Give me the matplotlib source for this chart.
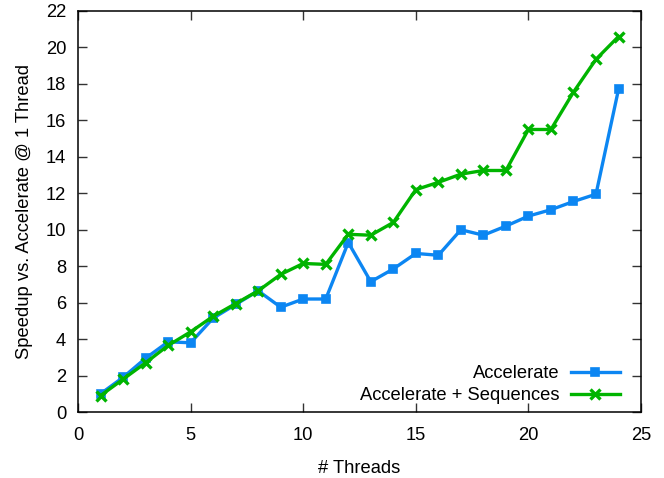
import matplotlib
matplotlib.use("Agg")
import matplotlib.pyplot as plt

threads = list(range(1, 25))
accelerate = [1.0, 1.9, 2.95, 3.85, 3.8, 5.15, 5.9, 6.65, 5.75, 6.2, 6.2, 9.3,
              7.15, 7.85, 8.7, 8.6, 10.0, 9.7, 10.2, 10.75, 11.1, 11.55, 11.95, 17.7]
accel_seq = [0.9, 1.8, 2.7, 3.65, 4.4, 5.25, 5.95, 6.65, 7.55, 8.15, 8.1, 9.75,
             9.7, 10.4, 12.2, 12.6, 13.05, 13.25, 13.25, 15.5, 15.5, 17.55, 19.35, 20.6]
labels = ["Accelerate", "Accelerate + Sequences"]

plt.rcParams["font.family"] = ["Liberation Sans", "DejaVu Sans"]
plt.rcParams["font.size"] = 13.2

fig = plt.figure(figsize=(6.64, 4.78), dpi=100)
ax = fig.add_axes([0.1175, 0.138, 0.8479, 0.839])

ax.plot(threads, accelerate, color="#0c86f2", lw=2.4, marker="s", ms=5.5,
        mew=1.2, label=labels[0])
ax.plot(threads, accel_seq, color="#00b400", lw=2.4, marker="x", ms=7.5,
        mew=2.4, label=labels[1])

ax.set_xlim(0, 25)
ax.set_ylim(0, 22)
ax.set_xticks(range(0, 26, 5))
ax.set_yticks(range(0, 23, 2))
ax.tick_params(direction="in", length=6.5, width=1, top=True, right=True,
               color="#333333")
ax.tick_params(axis="x", pad=11)
ax.tick_params(axis="y", pad=8.5)
for side in ax.spines.values():
    side.set_linewidth(1.1)

ax.set_xlabel("# Threads", labelpad=11)
ax.set_ylabel("Speedup vs. Accelerate @ 1 Thread", labelpad=9)

ax.legend(loc="lower right", bbox_to_anchor=(0.9627, 0.02), markerfirst=False,
          frameon=False, borderpad=0, borderaxespad=0, handlelength=2.7,
          handletextpad=0.6, labelspacing=0.25)

fig.savefig("out.png", dpi=100)
